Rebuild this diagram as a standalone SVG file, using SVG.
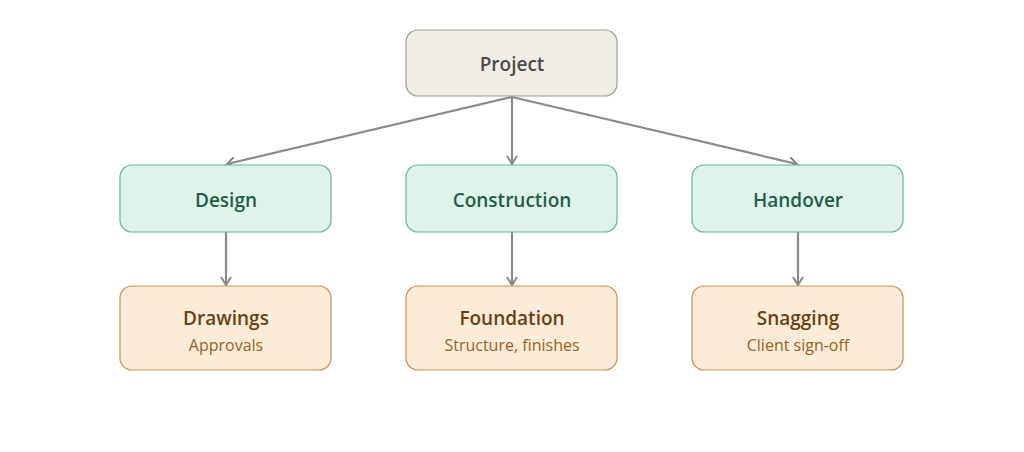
<svg xmlns="http://www.w3.org/2000/svg" width="1024" height="452" viewBox="0 0 1024 452">
<style>
text{font-family:"Open Sans","Noto Sans",sans-serif;text-anchor:middle;dominant-baseline:central}
.root rect{fill:#f1eee8;stroke:#a09d98;stroke-width:1.2}
.mid rect{fill:#e0f3eb;stroke:#6bb39a;stroke-width:1.2}
.leaf rect{fill:#fbebd7;stroke:#c2935a;stroke-width:1.2}
.t{font-size:19px;font-weight:600}
.root .t{fill:#4a4a48}.mid .t{fill:#1d5e48}.leaf .t{fill:#6b3f14}
.s{font-size:16px;fill:#9a6224}
.c path{stroke:#8a8a86;stroke-width:2.2;fill:none;marker-end:url(#a)}
</style>
<defs><marker id="a" viewBox="0 0 12 12" refX="10" refY="6" markerWidth="12" markerHeight="12" markerUnits="userSpaceOnUse" orient="auto"><path d="M2 1L10 6L2 11" fill="none" stroke="#8a8a86" stroke-width="2"/></marker></defs>
<g class="c">
<path d="M512 97L227 164"/><path d="M512 97L512 164"/><path d="M512 97L797 164"/>
<path d="M226 232L226 285"/><path d="M512 232L512 285"/><path d="M798 232L798 285"/>
</g>
<g id="project" class="root"><rect x="406" y="30" width="211" height="66" rx="12"/><text class="t" x="512" y="64">Project</text></g>
<g id="design" class="mid"><rect x="120" y="165" width="211" height="67" rx="12"/><text class="t" x="226" y="200">Design</text></g>
<g id="construction" class="mid"><rect x="406" y="165" width="211" height="67" rx="12"/><text class="t" x="512" y="200">Construction</text></g>
<g id="handover" class="mid"><rect x="692" y="165" width="211" height="67" rx="12"/><text class="t" x="798" y="200">Handover</text></g>
<g id="drawings" class="leaf"><rect x="120" y="286" width="211" height="84" rx="12"/><text class="t" x="226" y="318">Drawings</text><text class="s" x="226" y="345">Approvals</text></g>
<g id="foundation" class="leaf"><rect x="406" y="286" width="211" height="84" rx="12"/><text class="t" x="512" y="318">Foundation</text><text class="s" x="512" y="345">Structure, finishes</text></g>
<g id="snagging" class="leaf"><rect x="692" y="286" width="211" height="84" rx="12"/><text class="t" x="798" y="318">Snagging</text><text class="s" x="798" y="345">Client sign-off</text></g>
</svg>
